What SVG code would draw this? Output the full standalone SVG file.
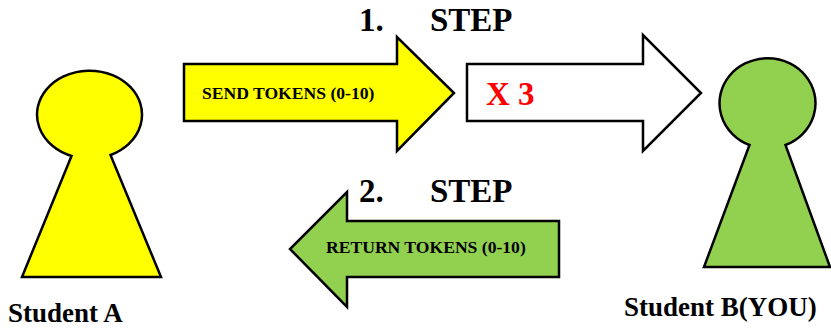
<svg xmlns="http://www.w3.org/2000/svg" width="831" height="329" viewBox="0 0 831 329">
<style>
text{font-family:"Liberation Serif",serif;font-weight:bold;fill:#000}
.s{stroke:#000;stroke-width:2.5;stroke-linejoin:miter}
.y{fill:#ffff00}.g{fill:#92d050}.w{fill:#fff}
.h{font-size:33px}.l{font-size:27px}.t{font-size:17.6px}
</style>
<rect width="831" height="329" fill="#fff"/>
<g id="student-a"><path class="s y" d="M71.500 156A52.500 44 0 1 1 110.500 155L161 277H22Z"/><text class="l" x="8" y="322">Student A</text></g>
<g id="student-b"><path class="s g" d="M749.500 145A48 45 0 1 1 785.500 145L830 267H704Z"/><text class="l" x="624" y="316">Student B(YOU)</text></g>
<g id="connectors">
<path id="send" class="s y" d="M184 64H397V37L454 93L397 151V121H184Z"/>
<path id="triple" class="s w" d="M467 64H643V35L701 93L643 151V121H467Z"/>
<path id="return" class="s g" d="M559 221H347V192L290 249L347 307V277H559Z"/>
</g>
<g id="labels">
<text class="h" x="359" y="31">1.</text><text class="h" x="430" y="31">STEP</text>
<text class="h" x="359" y="202">2.</text><text class="h" x="430" y="202">STEP</text>
<text class="t" x="202" y="98.500">SEND TOKENS (0-10)</text>
<text x="486" y="105" font-size="33" style="fill:#ff0000">X 3</text>
<text class="t" x="326" y="253">RETURN TOKENS (0-10)</text>
</g>
</svg>
